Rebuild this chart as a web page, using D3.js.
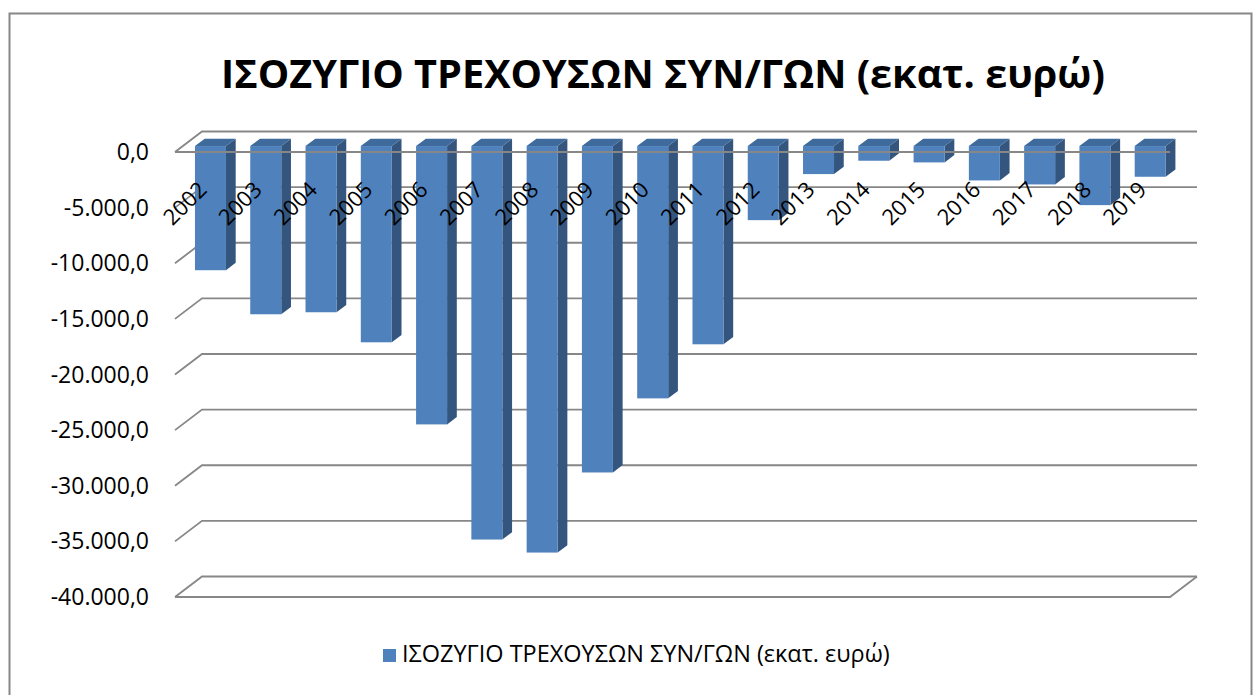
<!DOCTYPE html>
<html>
<head>
<meta charset="utf-8">
<script src="https://cdn.jsdelivr.net/npm/d3@7"></script>
<style>
  body { margin: 0; background: #fff; }
  text { font-family: "Open Sans", "Noto Sans", sans-serif; fill: #000; }
</style>
</head>
<body>
<div id="chart"></div>
<script>
var years = ['2002', '2003', '2004', '2005', '2006', '2007', '2008', '2009', '2010',
    '2011', '2012', '2013', '2014', '2015', '2016', '2017', '2018', '2019'];
var balance = [-11160, -15120, -14940, -17640, -25020, -35370, -36540, -29340, -22680,
    -17820, -6660, -2520, -1320, -1470, -3090, -3450, -5310, -2760];
var yTicks = [0, -5000, -10000, -15000, -20000, -25000, -30000, -35000, -40000];
var title = 'ΙΣΟΖΥΓΙΟ ΤΡΕΧΟΥΣΩΝ ΣΥΝ/ΓΩΝ (εκατ. ευρώ)';

var width = 1253, height = 695;
var depthX = 27, depthY = -20.5;   // offset of the back wall
var grid = '#878787';

var svg = d3.select('#chart').append('svg')
    .attr('width', width)
    .attr('height', height);

svg.append('rect')
    .attr('x', 9.5).attr('y', 13.5)
    .attr('width', 1242).attr('height', 700)
    .attr('fill', '#fff')
    .attr('stroke', grid)
    .attr('stroke-width', 2);

// shrink/grow a text so it spans the width seen in the picture
function fitText(sel, target) {
    var fs = parseFloat(sel.attr('font-size'));
    var len = sel.node().getComputedTextLength();
    sel.attr('font-size', fs * target / len);
}

var titleText = svg.append('text')
    .attr('x', 663).attr('y', 88)
    .attr('text-anchor', 'middle')
    .attr('font-weight', 'bold')
    .attr('font-size', 40)
    .text(title);
fitText(titleText, 884);

var x = d3.scaleBand().domain(years).range([175, 1170]);
var y = d3.scaleLinear().domain([-40000, 0]).range([597, 152]);

var loc = d3.formatLocale({ decimal: ',', thousands: '.', grouping: [3], currency: ['', '€'], minus: '-' });
var fmt = loc.format(',.1f');

// walls: side wall diagonals + back wall gridlines
var gridG = svg.append('g');
yTicks.forEach(function (v) {
    var yf = y(v), yb = y(v) + depthY;
    gridG.append('path')
        .attr('d', `M175,${yf}L${175 + depthX},${yb}L${1170 + depthX},${yb}`)
        .attr('fill', 'none')
        .attr('stroke', grid)
        .attr('stroke-width', 1.8);
});
// floor front edge
gridG.append('path')
    .attr('d', `M175,${y(-40000)}L1170,${y(-40000)}L${1170 + depthX},${y(-40000) + depthY}`)
    .attr('fill', 'none')
    .attr('stroke', grid)
    .attr('stroke-width', 1.8);

// y labels
svg.append('g').selectAll('text')
    .data(yTicks)
    .enter()
    .append('text')
    .attr('x', 149)
    .attr('y', d => y(d) + 8)
    .attr('text-anchor', 'end')
    .attr('font-size', 23)
    .text(d => fmt(d));

// 3d bars
var f0 = 0.29, f1 = 0.65;
var barW = 31;
var ox = depthX * f0, oy = depthY * f0;
var dx = depthX * (f1 - f0), dy = depthY * (f1 - f0);

var bars = svg.append('g').selectAll('g')
    .data(years.map((d, i) => ({ year: d, value: balance[i] })))
    .enter()
    .append('g');

function bx(d) { return x(d.year) + (x.bandwidth() - barW) / 2 + ox; }

bars.append('path')
    .attr('fill', '#34557e')
    .attr('d', function (d) {
        var x0 = bx(d) + barW, yt = y(0) + oy, yb = y(d.value) + oy;
        return `M${x0},${yt}L${x0 + dx},${yt + dy}L${x0 + dx},${yb + dy}L${x0},${yb}Z`;
    });

bars.append('path')
    .attr('fill', '#3f6a9c')
    .attr('d', function (d) {
        var x0 = bx(d), yt = y(0) + oy;
        return `M${x0},${yt}L${x0 + barW},${yt}L${x0 + barW + dx},${yt + dy}L${x0 + dx},${yt + dy}Z`;
    });

bars.append('rect')
    .attr('fill', '#4f81bd')
    .attr('x', d => bx(d))
    .attr('y', y(0) + oy)
    .attr('width', barW)
    .attr('height', d => y(d.value) - y(0));

// category axis line at 0 (in front of bars)
svg.append('line')
    .attr('x1', 175).attr('x2', 1170)
    .attr('y1', y(0)).attr('y2', y(0))
    .attr('stroke', grid)
    .attr('stroke-width', 1.8);

// year labels
svg.append('g').selectAll('text')
    .data(years)
    .enter()
    .append('text')
    .attr('text-anchor', 'end')
    .attr('font-size', 22)
    .attr('transform', d => `translate(${x(d) + x.bandwidth() / 2 + 5.5},191)rotate(-45)`)
    .text(d => d);

// legend
svg.append('rect')
    .attr('x', 383).attr('y', 649)
    .attr('width', 13).attr('height', 13)
    .attr('fill', '#4f81bd');

var legText = svg.append('text')
    .attr('x', 402).attr('y', 662)
    .attr('font-size', 20)
    .text(title);
fitText(legText, 488);
</script>
</body>
</html>
